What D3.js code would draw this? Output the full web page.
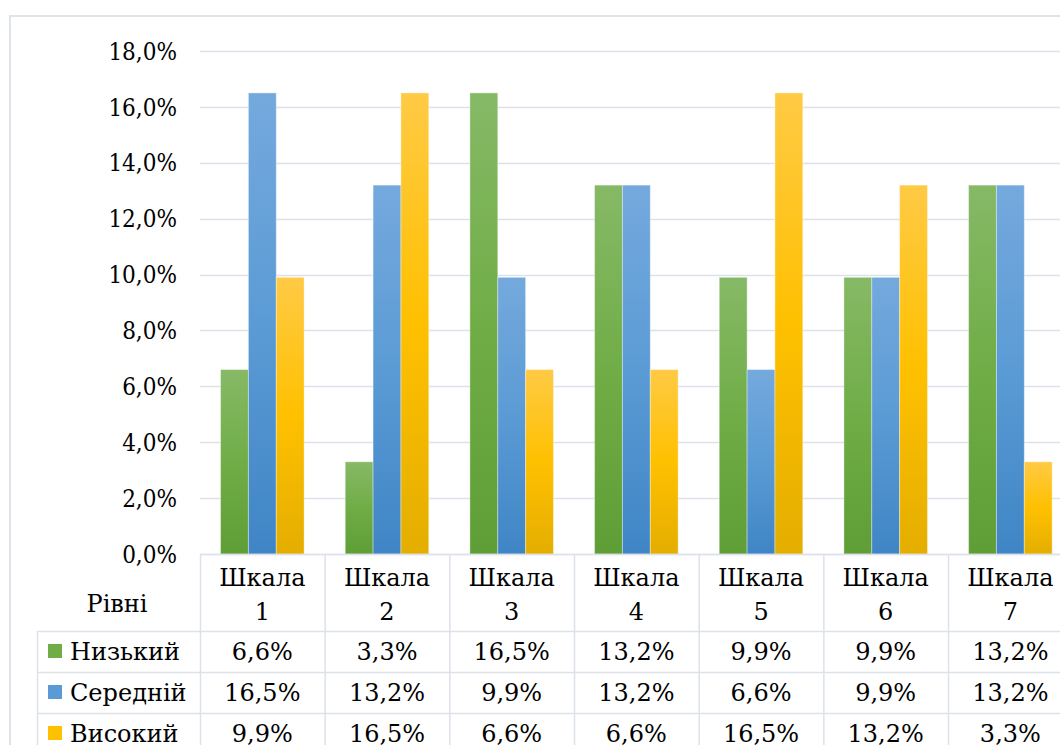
<!DOCTYPE html>
<html>
<head>
<meta charset="utf-8">
<script src="https://cdn.jsdelivr.net/npm/d3@7"></script>
<style>
  html, body { margin: 0; padding: 0; background: #fff; overflow: hidden; }
  svg { display: block; }
</style>
</head>
<body>
<svg id="chart" width="1060" height="745"></svg>
<script>
const categories = ["Шкала 1", "Шкала 2", "Шкала 3", "Шкала 4", "Шкала 5", "Шкала 6", "Шкала 7"];
const seriesNames = ["Низький", "Середній", "Високий"];
const lowValues = [6.6, 3.3, 16.5, 13.2, 9.9, 9.9, 13.2];
const midValues = [16.5, 13.2, 9.9, 13.2, 6.6, 9.9, 13.2];
const highValues = [9.9, 16.5, 6.6, 6.6, 16.5, 13.2, 3.3];
const yTicks = [0, 2, 4, 6, 8, 10, 12, 14, 16, 18];
const tableHeader = "Рівні";

const seriesValues = [lowValues, midValues, highValues];
const colors = [
  { top: "#86b966", mid: "#70ad47", bot: "#5f9d37" },
  { top: "#74a9dd", mid: "#5b9bd5", bot: "#3f85c5" },
  { top: "#ffca45", mid: "#ffc000", bot: "#e4ae00" }
];
const FONT = "DejaVu Serif";

const svg = d3.select("#chart");
const grid = "#dde1ea";
const fmt = v => d3.format(".1f")(v).replace(".", ",");

svg.append("rect").attr("x", 10).attr("y", 16).attr("width", 1100).attr("height", 800)
  .attr("fill", "none").attr("stroke", "#dfe3ec").attr("stroke-width", 2);

const x = d3.scaleBand().domain(categories).range([200, 1072.7])
  .paddingInner(0.33).paddingOuter(0.165);
const xs = d3.scaleBand().domain(seriesNames).range([0, x.bandwidth()]);
const y = d3.scaleLinear().domain([0, 18]).range([554, 51]);
const step = x.step();
const colLeft = c => x(c) - x.paddingOuter() * step;

const defs = svg.append("defs");
colors.forEach((c, i) => {
  const g = defs.append("linearGradient").attr("id", "g" + i)
    .attr("x1", 0).attr("y1", 0).attr("x2", 0).attr("y2", 1);
  g.append("stop").attr("offset", "0%").attr("stop-color", c.top);
  g.append("stop").attr("offset", "50%").attr("stop-color", c.mid);
  g.append("stop").attr("offset", "100%").attr("stop-color", c.bot);
});

svg.append("g").selectAll("line").data(yTicks).join("line")
  .attr("x1", 200).attr("x2", 1072.7)
  .attr("y1", d => Math.round(y(d)) + 0.5).attr("y2", d => Math.round(y(d)) + 0.5)
  .attr("stroke", grid).attr("stroke-width", 1.3);

const yAxis = d3.axisLeft(y).tickValues(yTicks).tickSize(0).tickPadding(0)
  .tickFormat(d => fmt(d) + "%");
const ya = svg.append("g").attr("transform", "translate(177,0)").call(yAxis)
  .attr("font-family", FONT).attr("font-size", 24);
ya.select(".domain").remove();
ya.selectAll("text").attr("fill", "#000").attr("dy", "0.34em").attr("transform", "scale(0.9,1)");

const groups = svg.append("g").selectAll("g").data(categories).join("g")
  .attr("transform", c => `translate(${x(c)},0)`);
groups.selectAll("rect").data((c, ci) => seriesNames.map((s, si) => ({ s, si, v: seriesValues[si][ci] })))
  .join("rect")
  .attr("x", d => xs(d.s)).attr("width", xs.bandwidth())
  .attr("y", d => y(d.v)).attr("height", d => y(0) - y(d.v))
  .attr("fill", d => `url(#g${d.si})`)
  .attr("stroke", "rgba(255,255,255,0.35)").attr("stroke-width", 1);

const tbl = svg.append("g").attr("font-family", FONT).attr("font-size", 24).attr("fill", "#000");
const rowY = [554, 631, 672, 713, 754];
const tableRight = 1072.7;
tbl.append("line").attr("x1", 200).attr("x2", tableRight).attr("y1", 554.5).attr("y2", 554.5)
  .attr("stroke", grid).attr("stroke-width", 1.5);
[631, 672, 713, 754].forEach(yy => {
  tbl.append("line").attr("x1", 37).attr("x2", tableRight).attr("y1", yy + 0.5).attr("y2", yy + 0.5)
    .attr("stroke", grid).attr("stroke-width", 1.5);
});
tbl.append("line").attr("x1", 37.5).attr("x2", 37.5).attr("y1", 631).attr("y2", 800)
  .attr("stroke", grid).attr("stroke-width", 1.5);
categories.concat(["_end"]).forEach((c, i) => {
  const xx = 200 + i * step;
  tbl.append("line").attr("x1", xx + 0.5).attr("x2", xx + 0.5).attr("y1", 554).attr("y2", 800)
    .attr("stroke", grid).attr("stroke-width", 1.5);
});

categories.forEach(c => {
  const [w, n] = c.split(" ");
  const cx = colLeft(c) + step / 2;
  tbl.append("text").attr("x", cx).attr("y", 586).text(w).attr("text-anchor", "middle");
  tbl.append("text").attr("x", cx).attr("y", 620).text(n).attr("text-anchor", "middle");
});
tbl.append("text").attr("x", 117).attr("y", 612).text(tableHeader).attr("text-anchor", "middle");

seriesNames.forEach((s, si) => {
  const top = rowY[si + 1];
  tbl.append("rect").attr("x", 48).attr("y", top + 13).attr("width", 14).attr("height", 14)
    .attr("fill", colors[si].mid);
  tbl.append("text").attr("x", 70).attr("y", top + 29).text(s);
  categories.forEach((c, ci) => {
    tbl.append("text").attr("x", colLeft(c) + step / 2).attr("y", top + 29)
      .text(fmt(seriesValues[si][ci]) + "%").attr("text-anchor", "middle");
  });
});
</script>
</body>
</html>
